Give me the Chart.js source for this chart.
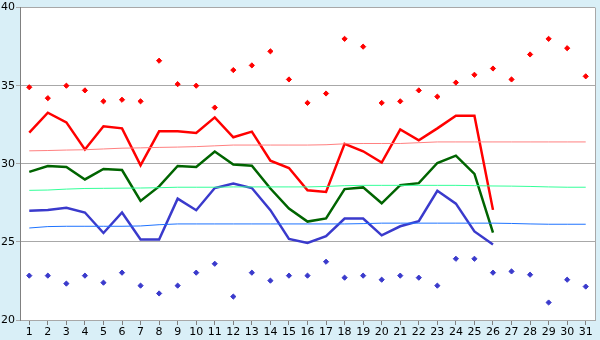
<!DOCTYPE html>
<html>
<head>
<meta charset="utf-8">
<script src="https://cdn.jsdelivr.net/npm/chart.js@4"></script>
<style>
  html, body { margin: 0; padding: 0; background: #d9eff7; }
  #wrap { width: 600px; height: 340px; }
</style>
</head>
<body>
<div id="wrap"><canvas id="chart" width="600" height="340"></canvas></div>
<script>
const days = Array.from({ length: 31 }, (_, i) => String(i + 1))

// daily maximum / minimum points
const maxPoints = [34.9, 34.2, 35.0, 34.7, 34.0, 34.1, 34.0, 36.6, 35.1, 35.0,
  33.6, 36.0, 36.3, 37.2, 35.4, 33.9, 34.5, 38.0, 37.5, 33.9,
  34.0, 34.7, 34.3, 35.2, 35.7, 36.1, 35.4, 37.0, 38.0, 37.4, 35.6]
const minPoints = [22.84, 22.84, 22.33, 22.84, 22.39, 23.03, 22.2, 21.7, 22.2, 23.03,
  23.6, 21.5, 23.03, 22.52, 22.84, 22.84, 23.73, 22.71, 22.84, 22.58,
  22.84, 22.71, 22.2, 23.92, 23.92, 23.03, 23.11, 22.9, 21.12, 22.58, 22.14]

// this month (thick lines), days 1-26
const highLine = [32.0, 33.27, 32.65, 30.92, 32.4, 32.27, 29.9, 32.08, 32.08, 31.98,
  32.97, 31.7, 32.06, 30.2, 29.73, 28.3, 28.2, 31.28, 30.8, 30.08,
  32.2, 31.5, 32.27, 33.08, 33.08, 27.05]
const meanLine = [29.48, 29.86, 29.8, 29.0, 29.67, 29.6, 27.62, 28.55, 29.86, 29.8,
  30.79, 29.95, 29.88, 28.42, 27.13, 26.3, 26.5, 28.38, 28.49, 27.47,
  28.63, 28.76, 30.05, 30.52, 29.35, 25.59]
const lowLine = [27.0, 27.05, 27.19, 26.88, 25.57, 26.88, 25.16, 25.16, 27.77, 27.03,
  28.45, 28.74, 28.45, 27.03, 25.19, 24.93, 25.37, 26.5, 26.5, 25.42,
  26.0, 26.33, 28.27, 27.45, 25.67, 24.83]

// normals (thin lines)
const highNormal = [30.83, 30.85, 30.88, 30.9, 30.95, 31.0, 31.02, 31.05, 31.07, 31.1,
  31.15, 31.2, 31.2, 31.2, 31.2, 31.2, 31.22, 31.28, 31.3, 31.3,
  31.3, 31.35, 31.4, 31.4, 31.4, 31.4, 31.4, 31.4, 31.4, 31.4, 31.4]
const meanNormal = [28.3, 28.32, 28.38, 28.42, 28.43, 28.44, 28.45, 28.47, 28.5, 28.5,
  28.5, 28.52, 28.52, 28.52, 28.52, 28.52, 28.55, 28.6, 28.62, 28.62,
  28.62, 28.62, 28.62, 28.62, 28.6, 28.58, 28.57, 28.55, 28.52, 28.5, 28.5]
const lowNormal = [25.89, 25.98, 26.0, 26.0, 26.0, 26.0, 26.02, 26.1, 26.15, 26.15,
  26.15, 26.15, 26.15, 26.15, 26.15, 26.15, 26.15, 26.15, 26.17, 26.2,
  26.2, 26.2, 26.2, 26.2, 26.2, 26.2, 26.18, 26.15, 26.13, 26.13, 26.13]

const yTicks = [20, 25, 30, 35, 40]

function thin(data, color) {
  return { data: data, borderColor: color, borderWidth: 1, pointRadius: 0, fill: false, tension: 0 }
}
function thick(data, color) {
  return { data: data, borderColor: color, borderWidth: 2.5, pointRadius: 0, fill: false, tension: 0 }
}
function dots(data, color) {
  return { data: data, showLine: false, pointStyle: 'rectRot', pointRadius: 2.6,
    pointBackgroundColor: color, pointBorderColor: color, pointBorderWidth: 1 }
}

// white plot area + right frame line
const plotBg = {
  id: 'plotBg',
  beforeDraw(chart) {
    const { ctx, chartArea: a } = chart
    ctx.save()
    ctx.fillStyle = '#ffffff'
    ctx.fillRect(a.left, a.top, a.right - a.left, a.bottom - a.top)
    ctx.restore()
  },
  afterDraw(chart) {
    const { ctx, chartArea: a } = chart
    ctx.save()
    ctx.strokeStyle = '#a8a8a8'
    ctx.lineWidth = 1
    ctx.beginPath()
    ctx.moveTo(a.right + 0.5, a.top)
    ctx.lineTo(a.right + 0.5, a.bottom)
    ctx.stroke()
    ctx.restore()
  }
}

new Chart(document.getElementById('chart'), {
  type: 'line',
  data: {
    labels: days,
    datasets: [
      thin(highNormal, '#ff8080'),
      thin(meanNormal, '#33ff99'),
      thin(lowNormal, '#1e73ff'),
      thick(highLine, '#ff0000'),
      thick(meanLine, '#006400'),
      thick(lowLine, '#3a3acc'),
      dots(maxPoints, '#ff0000'),
      dots(minPoints, '#3a3acc')
    ]
  },
  options: {
    responsive: false,
    animation: false,
    layout: { padding: { top: 5, right: 4, left: 0, bottom: 0 } },
    plugins: { legend: { display: false }, tooltip: { enabled: false } },
    scales: {
      x: {
        offset: true,
        grid: { display: true, drawOnChartArea: false, drawTicks: true, tickLength: 5, color: '#808080' },
        border: { color: '#a8a8a8' },
        ticks: { color: '#000', font: { family: 'DejaVu Sans', size: 11 }, padding: 1, maxRotation: 0, autoSkip: false },
        afterFit(scale) { scale.height = 20 }
      },
      y: {
        min: 20, max: 40,
        afterBuildTicks(scale) { scale.ticks = yTicks.map(v => ({ value: v })) },
        grid: { color: '#a8a8a8', tickLength: 4 },
        border: { color: '#808080' },
        ticks: { color: '#000', font: { family: 'DejaVu Sans', size: 11 }, padding: 1 },
        afterFit(scale) { scale.width = 20 }
      }
    }
  },
  plugins: [plotBg]
})
</script>
</body>
</html>
